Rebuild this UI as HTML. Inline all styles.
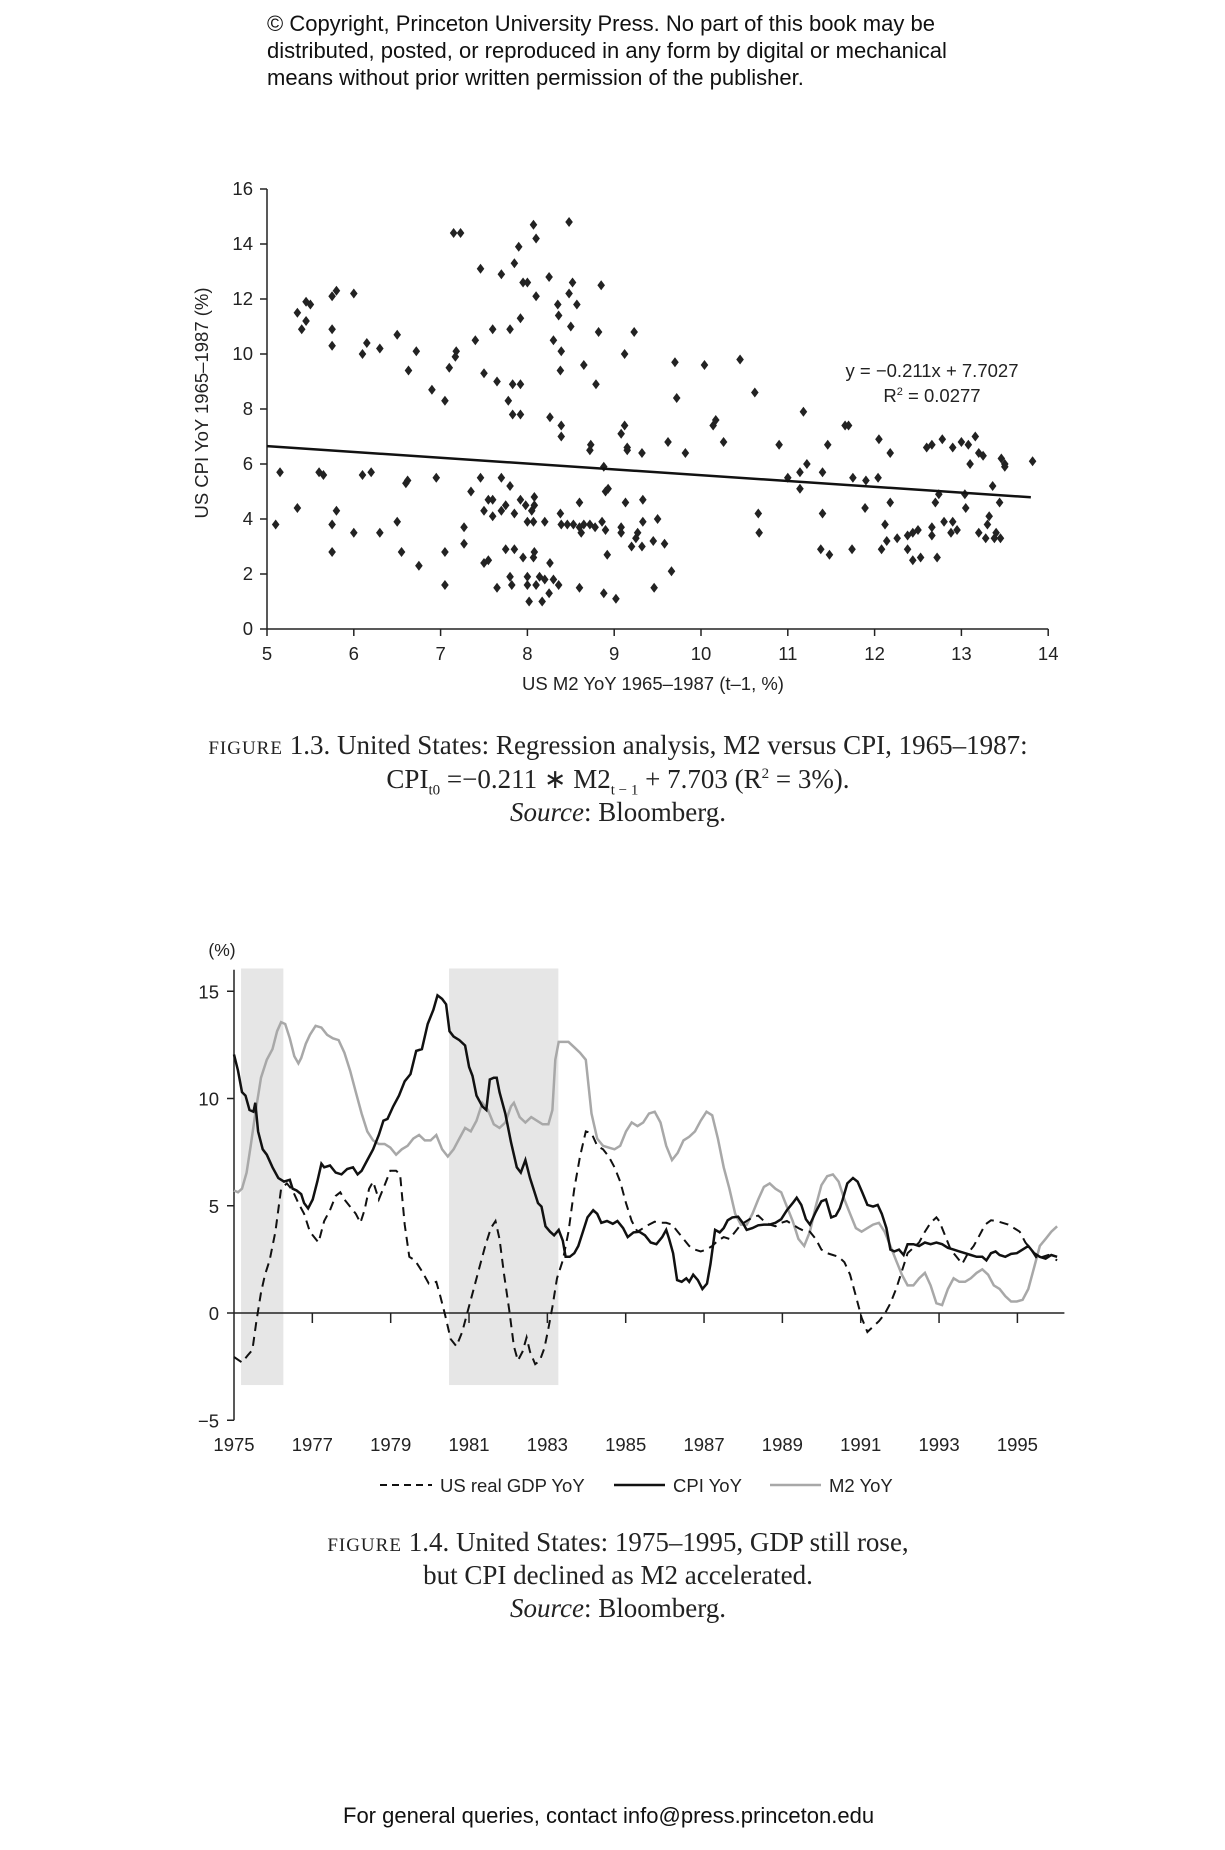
<!DOCTYPE html>
<html><head><meta charset="utf-8"><style>
html,body{margin:0;padding:0;background:#fff;}
body{width:1225px;height:1850px;position:relative;overflow:hidden;font-family:"Liberation Sans",sans-serif;}
.t{position:absolute;white-space:nowrap;}
.cap{font-family:"Liberation Serif",serif;font-size:27px;color:#222;text-align:center;position:absolute;left:0;width:1236px;}
.sc{font-variant:small-caps;letter-spacing:1px;}
</style></head><body>
<div class="t" style="left:267px;top:10px;font-size:22px;line-height:27px;color:#111;">© Copyright, Princeton University Press. No part of this book may be<br>distributed, posted, or reproduced in any form by digital or mechanical<br>means without prior written permission of the publisher.</div>

<svg id="s1" width="1225" height="1850" style="position:absolute;left:0;top:0" font-family="Liberation Sans, sans-serif"></svg>

<div class="cap" style="top:730px;"><span class="sc">figure</span> 1.3. United States: Regression analysis, M2 versus CPI, 1965–1987:</div>
<div class="cap" style="top:764px;">CPI<sub style="font-size:15px">t0</sub> =−0.211 ∗ M2<sub style="font-size:15px">t − 1</sub> + 7.703 (R<sup style="font-size:15px">2</sup> = 3%).</div>
<div class="cap" style="top:797px;"><i>Source</i>: Bloomberg.</div>

<div class="cap" style="top:1527px;"><span class="sc">figure</span> 1.4. United States: 1975–1995, GDP still rose,</div>
<div class="cap" style="top:1560px;">but CPI declined as M2 accelerated.</div>
<div class="cap" style="top:1593px;"><i>Source</i>: Bloomberg.</div>

<div class="t" style="left:343px;top:1803px;font-size:22px;color:#111;">For general queries, contact info@press.princeton.edu</div>

<script>
var S=document.getElementById('s1'),h='';
function L(x1,y1,x2,y2,st){h+='<line x1="'+x1+'" y1="'+y1+'" x2="'+x2+'" y2="'+y2+'" style="'+(st||'stroke:#222;stroke-width:1.5')+'"/>';}
function T(x,y,s,sz,anc,ex){h+='<text x="'+x+'" y="'+y+'" font-size="'+sz+'" text-anchor="'+(anc||'middle')+'" fill="#222" '+(ex||'')+'>'+s+'</text>';}
// Scatter
var X0=267,XU=86.8,Y0=629,YU=27.5;
function sx(v){return X0+(v-5)*XU;} function sy(v){return Y0-v*YU;}
L(X0,sy(16),X0,Y0);L(X0,Y0,sx(14),Y0);
for(var i=0;i<=16;i+=2){L(X0-7,sy(i),X0,sy(i));T(X0-14,sy(i)+6,i,18.5,'end');}
for(var i=5;i<=14;i++){L(sx(i),Y0,sx(i),Y0+7);T(sx(i),Y0+31,i,18.5);}
T(208,403,'US CPI YoY 1965–1987 (%)',18.5,'middle','transform="rotate(-90 208 403)"');
T(653,690,'US M2 YoY 1965–1987 (t–1, %)',18.5);
T(932,377,'y = −0.211x + 7.7027',18.5);
T(932,402,'R<tspan font-size="11" dy="-7">2</tspan><tspan dy="7"> = 0.0277</tspan>',18.5);
var P=[[5.1,3.8],[5.15,5.7],[5.35,4.4],[5.35,11.5],[5.4,10.9],[5.45,11.9],[5.45,11.2],[5.5,11.8],[5.6,5.7],[5.65,5.6],[5.75,12.1],[5.8,12.3],[5.75,10.9],[5.75,10.3],[5.75,3.8],[5.75,2.8],[5.8,4.3],[6,12.2],[6,3.5],[6.1,10],[6.1,5.6],[6.15,10.4],[6.2,5.7],[6.3,10.2],[6.3,3.5],[6.5,10.7],[6.5,3.9],[6.55,2.8],[6.6,5.3],[6.62,5.4],[6.63,9.4],[6.72,10.1],[6.75,2.3],[6.9,8.7],[6.95,5.5],[7.05,8.3],[7.05,2.8],[7.05,1.6],[7.1,9.5],[7.15,14.4],[7.23,14.4],[7.18,10.1],[7.17,9.9],[7.27,3.7],[7.27,3.1],[7.35,5.0],[7.4,10.5],[7.46,13.1],[7.46,5.5],[7.5,9.3],[7.5,4.3],[7.55,4.7],[7.55,2.5],[7.5,2.4],[7.6,4.1],[7.6,4.7],[7.6,10.9],[7.65,9.0],[7.65,1.5],[7.7,12.9],[7.7,5.5],[7.75,4.5],[7.7,4.3],[7.75,2.9],[7.78,8.3],[7.8,10.9],[7.8,5.2],[7.8,1.9],[7.85,13.3],[7.83,8.9],[7.83,7.8],[7.85,4.2],[7.85,2.9],[7.82,1.6],[7.9,13.9],[7.92,11.3],[7.92,8.9],[7.92,7.8],[7.92,4.7],[7.95,12.6],[7.95,2.6],[8,12.6],[7.98,4.5],[8,3.9],[8,1.9],[8,1.6],[8.02,1.0],[8.07,14.7],[8.05,4.3],[8.07,3.9],[8.07,2.6],[8.08,2.8],[8.1,14.2],[8.1,12.1],[8.08,4.8],[8.08,4.5],[8.1,1.6],[8.14,1.9],[8.17,1.0],[8.2,1.8],[8.2,3.9],[8.25,12.8],[8.26,7.7],[8.26,2.4],[8.25,1.3],[8.3,10.5],[8.3,1.8],[8.35,11.8],[8.36,11.4],[8.36,1.6],[8.39,10.1],[8.38,9.4],[8.39,7.4],[8.39,7.0],[8.38,4.2],[8.39,3.8],[8.46,3.8],[8.48,14.8],[8.48,12.2],[8.5,11],[8.52,12.6],[8.53,3.8],[8.57,11.8],[8.6,3.7],[8.6,4.6],[8.6,1.5],[8.65,3.8],[8.62,3.5],[8.65,9.6],[8.72,3.8],[8.73,6.7],[8.72,6.5],[8.79,8.9],[8.78,3.7],[8.82,10.8],[8.86,3.9],[8.85,12.5],[8.88,5.9],[8.9,5.0],[8.9,3.6],[8.88,1.3],[8.93,5.1],[8.92,2.7],[9.02,1.1],[9.08,7.1],[9.08,3.7],[9.08,3.5],[9.12,10.0],[9.12,7.4],[9.15,6.6],[9.15,6.5],[9.13,4.6],[9.2,3.0],[9.23,10.8],[9.27,3.5],[9.25,3.3],[9.32,6.4],[9.33,4.7],[9.33,3.9],[9.32,3.0],[9.45,3.2],[9.46,1.5],[9.5,4.0],[9.58,3.1],[9.62,6.8],[9.66,2.1],[9.7,9.7],[9.72,8.4],[9.82,6.4],[10.04,9.6],[10.14,7.4],[10.17,7.6],[10.26,6.8],[10.45,9.8],[10.62,8.6],[10.66,4.2],[10.67,3.5],[10.9,6.7],[11.0,5.5],[11.14,5.7],[11.14,5.1],[11.18,7.9],[11.22,6.0],[11.4,5.7],[11.4,4.2],[11.38,2.9],[11.46,6.7],[11.48,2.7],[11.66,7.4],[11.7,7.4],[11.75,5.5],[11.74,2.9],[11.9,5.4],[11.89,4.4],[12.04,5.5],[12.05,6.9],[12.08,2.9],[12.12,3.8],[12.14,3.2],[12.18,6.4],[12.18,4.6],[12.26,3.3],[12.38,3.4],[12.38,2.9],[12.44,3.5],[12.44,2.5],[12.5,3.6],[12.53,2.6],[12.6,6.6],[12.66,6.7],[12.66,3.7],[12.66,3.4],[12.7,4.6],[12.74,4.9],[12.72,2.6],[12.78,6.9],[12.8,3.9],[12.9,6.6],[12.9,3.9],[12.88,3.5],[12.95,3.6],[13.0,6.8],[13.04,4.9],[13.05,4.4],[13.08,6.7],[13.1,6.0],[13.16,7.0],[13.2,6.4],[13.2,3.5],[13.25,6.3],[13.3,3.8],[13.28,3.3],[13.32,4.1],[13.36,5.2],[13.38,3.3],[13.4,3.5],[13.45,3.3],[13.44,4.6],[13.46,6.2],[13.5,6.0],[13.5,5.9],[13.82,6.1]];
P.forEach(function(p){var x=sx(p[0]),y=sy(p[1]);h+='<path d="M'+x+' '+(y-5)+'L'+(x+3.8)+' '+y+'L'+x+' '+(y+5)+'L'+(x-3.8)+' '+y+'Z" fill="#222"/>';});
L(sx(5),sy(6.65),sx(13.8),sy(4.79),'stroke:#111;stroke-width:2.5');
// Chart 2
var A=234,YR=39.17,Z=1313,VU=21.45;
function cx(zx){return A+((zx-113)/68.15)*YR;} function cy(zy){return Z-((1107-zy)/59.9)*VU;}
function yx(y){return A+(y-1975)*YR;} function vy(v){return Z-v*VU;}
h+='<rect x="'+yx(1975.18)+'" y="'+vy(16.06)+'" width="'+(yx(1976.26)-yx(1975.18))+'" height="'+(vy(-3.36)-vy(16.06))+'" fill="#e6e6e6"/>';
h+='<rect x="'+yx(1980.49)+'" y="'+vy(16.06)+'" width="'+(yx(1983.28)-yx(1980.49))+'" height="'+(vy(-3.36)-vy(16.06))+'" fill="#e6e6e6"/>';
L(A,vy(16),A,vy(-5));
[15,10,5,0,-5].forEach(function(v){L(A-7,vy(v),A,vy(v));T(A-15,vy(v)+7,v==-5?'−5':v,18.5,'end');});
L(A,Z,yx(1996.2),Z);
for(var y=1977;y<=1995;y+=2){L(yx(y),Z,yx(y),Z+10);}
for(var y=1975;y<=1995;y+=2){T(yx(y),1451,y,18.5);}
T(222,956,'(%)',17.5);
function poly(arr,st){h+='<polyline fill="none" points="'+arr.map(function(p){return cx(p[0]).toFixed(1)+','+cy(p[1]).toFixed(1);}).join(' ')+'" style="'+st+'"/>';}
var M2=[[113,765],[120,770],[127,760],[135,715],[142,640],[150,550],[160,450],[170,400],[180,370],[188,320],[195,295],[202,300],[210,340],[218,390],[225,410],[230,395],[238,355],[245,330],[255,305],[265,310],[275,330],[285,340],[295,345],[305,380],[315,430],[325,490],[335,550],[345,600],[355,625],[365,635],[375,635],[385,645],[395,665],[405,650],[415,640],[425,620],[435,610],[445,625],[455,625],[465,610],[475,650],[485,670],[495,650],[505,620],[515,590],[525,600],[535,570],[545,520],[555,540],[565,580],[575,590],[585,575],[595,530],[600,520],[610,560],[620,575],[630,560],[640,570],[650,580],[660,580],[667,540],[672,400],[678,350],[685,350],[695,350],[705,365],[715,380],[725,400],[735,550],[745,620],[755,640],[765,645],[775,650],[785,640],[795,600],[805,575],[815,585],[825,575],[835,550],[845,545],[855,575],[865,640],[875,680],[885,660],[895,625],[905,615],[915,600],[925,570],[935,545],[945,555],[955,620],[965,700],[975,760],[985,830],[995,860],[1005,860],[1015,830],[1025,790],[1035,755],[1045,745],[1055,760],[1065,770],[1075,810],[1085,850],[1095,900],[1105,920],[1115,880],[1125,810],[1135,750],[1145,725],[1155,720],[1165,740],[1175,790],[1185,830],[1195,870],[1205,880],[1215,870],[1225,860],[1235,855],[1245,880],[1255,920],[1265,960],[1275,1000],[1285,1030],[1295,1030],[1305,1010],[1315,995],[1325,1030],[1335,1080],[1345,1085],[1355,1040],[1365,1010],[1375,1020],[1385,1020],[1395,1010],[1405,995],[1415,985],[1425,1000],[1435,1030],[1445,1040],[1455,1060],[1465,1075],[1475,1075],[1485,1070],[1495,1040],[1505,980],[1515,920],[1525,900],[1535,880],[1545,865]];
var GDP=[[113,1230],[127,1245],[137,1225],[145,1210],[152,1130],[160,1050],[167,1000],[175,960],[185,880],[195,760],[205,745],[215,765],[225,800],[235,830],[245,880],[260,910],[270,850],[280,820],[290,780],[298,770],[305,790],[315,810],[325,830],[333,855],[340,820],[348,760],[355,740],[365,790],[375,750],[385,710],[395,710],[402,720],[410,860],[418,950],[428,960],[440,990],[452,1025],[465,1020],[472,1060],[480,1110],[490,1180],[500,1200],[510,1160],[520,1100],[530,1040],[540,980],[550,920],[560,870],[568,850],[575,900],[583,1000],[592,1100],[600,1200],[607,1240],[615,1215],[622,1175],[628,1215],[637,1250],[645,1240],[653,1205],[660,1150],[667,1090],[675,1010],[685,960],[695,880],[705,760],[715,670],[725,600],[735,605],[745,640],[755,650],[765,670],[775,700],[785,740],[795,800],[805,850],[815,880],[825,870],[835,860],[845,852],[855,855],[865,855],[875,860],[885,880],[895,900],[905,920],[915,930],[925,935],[935,930],[945,920],[955,905],[965,895],[975,900],[985,880],[995,860],[1005,850],[1015,840],[1025,835],[1035,850],[1045,860],[1055,865],[1065,855],[1075,850],[1085,860],[1095,870],[1105,878],[1115,880],[1125,900],[1135,930],[1145,940],[1155,945],[1165,950],[1175,965],[1185,1000],[1195,1060],[1205,1120],[1215,1160],[1225,1145],[1235,1130],[1245,1110],[1255,1080],[1265,1040],[1275,990],[1285,940],[1295,925],[1305,910],[1315,880],[1325,855],[1335,840],[1340,850],[1350,890],[1360,930],[1370,950],[1380,970],[1390,940],[1400,920],[1410,890],[1420,860],[1430,848],[1440,850],[1450,855],[1460,860],[1470,870],[1480,880],[1490,910],[1500,930],[1510,955],[1520,950],[1530,945],[1540,955],[1545,960]];
var CPI=[[113,385],[120,430],[127,490],[133,500],[140,540],[147,545],[150,520],[155,600],[163,650],[170,665],[180,700],[190,730],[200,740],[210,735],[215,760],[222,765],[230,775],[235,800],[242,815],[250,790],[258,740],[265,690],[270,700],[280,695],[290,715],[300,720],[310,705],[320,700],[328,720],[335,710],[345,680],[355,650],[365,610],[373,570],[380,565],[390,530],[400,500],[410,460],[420,440],[430,375],[440,370],[450,300],[460,260],[467,220],[475,230],[482,245],[488,320],[495,335],[505,345],[515,360],[522,420],[528,445],[535,500],[545,530],[552,540],[558,455],[565,450],[570,450],[575,490],[585,550],[595,630],[605,700],[612,715],[620,680],[628,730],[635,765],[642,800],[648,810],[655,865],[663,880],[670,890],[678,875],[685,905],[690,950],[697,950],[705,940],[712,920],[720,880],[728,840],[738,820],[745,830],[752,855],[762,850],[772,858],[780,850],[790,870],[798,895],[808,882],[818,880],[828,890],[838,910],[848,915],[858,895],[865,875],[870,900],[877,940],[884,1015],[892,1020],[900,1010],[905,1020],[912,1000],[920,1015],[928,1040],[936,1025],[942,970],[950,875],[958,882],[965,870],[972,848],[980,840],[990,838],[998,855],[1005,875],[1015,870],[1025,862],[1035,860],[1045,860],[1055,855],[1065,845],[1075,820],[1085,800],[1092,785],[1100,805],[1108,845],[1115,860],[1125,825],[1135,795],[1143,790],[1152,840],[1160,835],[1167,815],[1172,790],[1180,745],[1190,730],[1198,740],[1206,770],[1215,805],[1225,810],[1233,805],[1240,830],[1248,870],[1255,930],[1262,935],[1270,930],[1278,945],[1285,915],[1295,915],[1305,920],[1315,910],[1325,915],[1335,910],[1345,915],[1355,925],[1365,930],[1375,935],[1385,940],[1395,945],[1405,950],[1415,950],[1422,960],[1430,940],[1438,935],[1445,945],[1455,950],[1465,942],[1475,940],[1485,930],[1495,920],[1505,940],[1515,950],[1525,955],[1535,945],[1545,950]];
poly(M2,'stroke:#a8a8a8;stroke-width:2.5');
poly(GDP,'stroke:#111;stroke-width:2;stroke-dasharray:9,6');
poly(CPI,'stroke:#111;stroke-width:2.5');
// legend
var LY=1485;
L(380,LY,432,LY,'stroke:#111;stroke-width:2;stroke-dasharray:7,5');T(440,LY+7,'US real GDP YoY',18.5,'start');
L(614,LY,665,LY,'stroke:#111;stroke-width:2.5');T(673,LY+7,'CPI YoY',18.5,'start');
L(770,LY,821,LY,'stroke:#a8a8a8;stroke-width:2.5');T(829,LY+7,'M2 YoY',18.5,'start');
S.innerHTML=h;
</script>
</body></html>
